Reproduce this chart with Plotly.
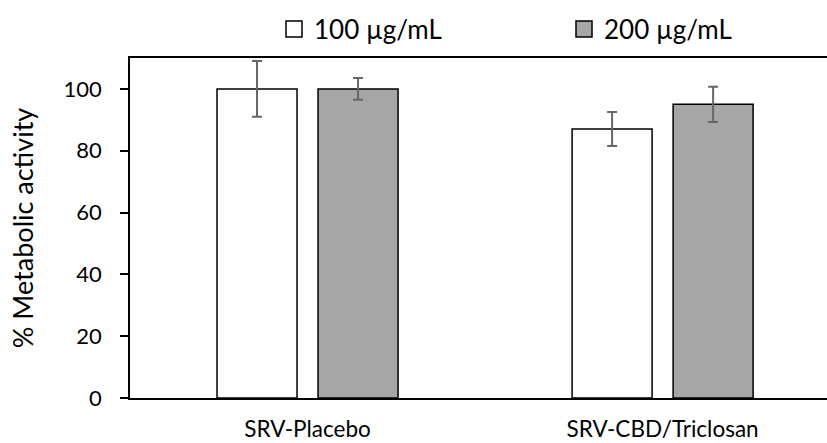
import plotly.graph_objects as go

categories = ["SRV-Placebo", "SRV-CBD/Triclosan"]
series_names = ["100 µg/mL", "200 µg/mL"]
values_100 = [100, 87]
errors_100 = [9, 5.5]
values_200 = [100, 95]
errors_200 = [3.5, 5.7]

fills = ["#FFFFFF", "#A6A6A6"]
legend_widths = [245, 140]
font_family = "Lato, 'Open Sans', sans-serif"

fig = go.Figure()
for name, vals, errs, col in zip(series_names, [values_100, values_200], [errors_100, errors_200], fills):
    fig.add_trace(go.Bar(
        x=categories, y=vals, name=name, legendgroup=name, showlegend=False,
        marker=dict(color=col, line=dict(color="#000000", width=1.5)),
        error_y=dict(type="data", array=errs, visible=True, color="#666666", thickness=2, width=5),
    ))
# legend entries (square swatches)
for name, col, lw in zip(series_names, fills, legend_widths):
    fig.add_trace(go.Scatter(
        x=[None], y=[None], name=name, legendgroup=name, mode="markers", legendwidth=lw,
        marker=dict(symbol="square", size=16, color=col, line=dict(color="#000000", width=1.5)),
    ))

fig.update_layout(
    width=827, height=443,
    margin=dict(l=130, r=0, t=58, b=45),
    paper_bgcolor="white", plot_bgcolor="white",
    barmode="group", bargap=0.431, bargroupgap=0.208,
    font=dict(family=font_family, size=22, color="#000000"),
    showlegend=True,
    legend=dict(orientation="h", x=0.2066, xanchor="left", y=1.085, yanchor="middle",
                font=dict(size=26), bgcolor="rgba(0,0,0,0)"),
    xaxis=dict(range=[-0.5, 1.463], showline=True, linecolor="#000000", linewidth=1.5,
               mirror=True, ticks="", tickfont=dict(size=22.5), showgrid=False,
               ticklabelstandoff=10, automargin=False),
    yaxis=dict(range=[0, 110], tickvals=[0, 20, 40, 60, 80, 100], showline=True,
               linecolor="#000000", linewidth=1.5, ticks="outside", ticklen=8,
               tickcolor="#000000", tickwidth=1.5, showgrid=False, zeroline=False,
               tickfont=dict(size=22), ticklabelstandoff=14, automargin=False,
               title=dict(text="% Metabolic activity", font=dict(size=27), standoff=22)),
)

fig.write_html("out.html", config={"displayModeBar": False},
               post_script="document.body.style.margin='0px';")
